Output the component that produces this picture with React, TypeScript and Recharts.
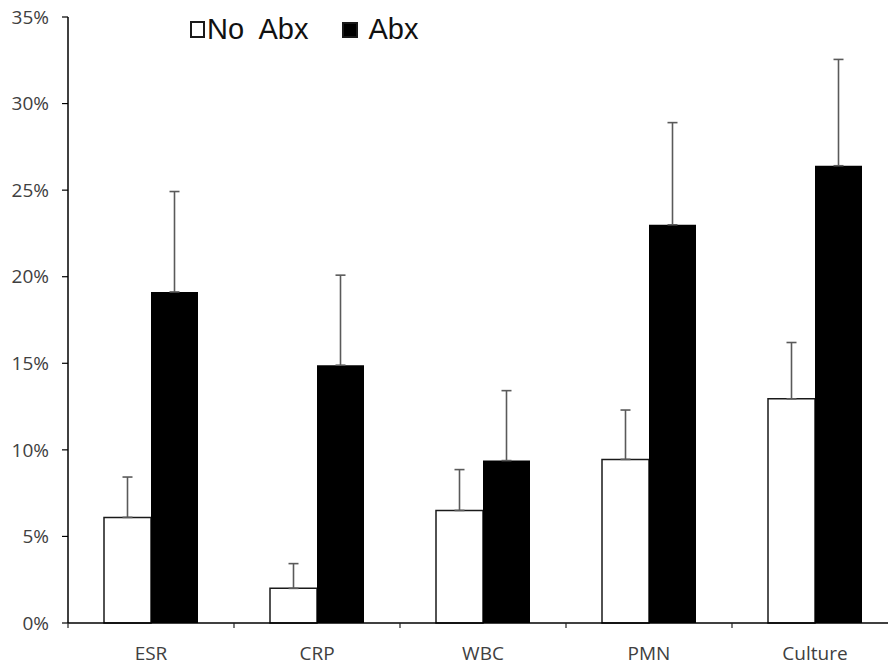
import { BarChart, Bar, XAxis, YAxis, ErrorBar, Legend } from "recharts";

// Positive-test rates (%) by marker, split by prior antibiotics
const categories = ["ESR", "CRP", "WBC", "PMN", "Culture"];
const noAbx = [6.1, 2.0, 6.5, 9.45, 12.95];
const noAbxErr = [2.33, 1.43, 2.36, 2.85, 3.25];
const abx = [19.12, 14.89, 9.38, 23.0, 26.41];
const abxErr = [5.8, 5.2, 4.04, 5.9, 6.14];
const yTicks = [0, 5, 10, 15, 20, 25, 30, 35];
const seriesOrder = ["noAbx", "abx"];

const Y_AXIS_W = 68;
const PLOT_W = 830;
const BAND = PLOT_W / categories.length;

// error bars only go up: [lower, upper]
const data = categories.map((category, i) => ({
  category,
  noAbx: noAbx[i],
  noAbxErr: [0, noAbxErr[i]],
  abx: abx[i],
  abxErr: [0, abxErr[i]],
}));

const swatch: Record<string, { fill: string; w: number; h: number; gap: number; after: number }> = {
  noAbx: { fill: "#ffffff", w: 11, h: 13, gap: 2, after: 33 },
  abx: { fill: "#000000", w: 12, h: 12, gap: 11, after: 0 },
};

function CategoryTick({ x, y, payload }: any) {
  const edge = x - BAND / 2;
  return (
    <g>
      <line x1={edge} x2={edge} y1={y} y2={y + 5} stroke="#222" strokeWidth={1.2} />
      <text
        x={x}
        y={y + 24}
        dy="0.71em"
        textAnchor="middle"
        fill="#404040"
        fontSize={19}
        fontFamily="'Open Sans', sans-serif"
      >
        {payload.value}
      </text>
    </g>
  );
}

function LegendContent({ payload }: any) {
  const items = [...(payload || [])].sort(
    (a: any, b: any) => seriesOrder.indexOf(a.dataKey) - seriesOrder.indexOf(b.dataKey)
  );
  return (
    <div
      style={{
        display: "flex",
        alignItems: "center",
        fontFamily: "'Liberation Sans', Arial, sans-serif",
        fontSize: 29,
        lineHeight: 1,
        color: "#111",
        whiteSpace: "nowrap",
      }}
    >
      {items.map((entry: any) => {
        const s = swatch[entry.dataKey];
        return (
          <div
            key={entry.dataKey}
            style={{ display: "flex", alignItems: "center", marginRight: s.after }}
          >
            <span
              style={{
                display: "inline-block",
                width: s.w,
                height: s.h,
                border: "2px solid #1a1a1a",
                background: s.fill,
                marginRight: s.gap,
              }}
            />
            <span style={{ wordSpacing: 8 }}>{entry.value}</span>
          </div>
        );
      })}
    </div>
  );
}

export default function App() {
  return (
    <div
      style={{
        position: "absolute",
        left: 0,
        top: 0,
        width: 888,
        height: 665,
        overflow: "hidden",
        background: "#fff",
      }}
    >
      <BarChart
        width={Y_AXIS_W + PLOT_W}
        height={665}
        data={data}
        margin={{ top: 17, right: 0, bottom: 2, left: 0 }}
        barSize={47}
        barGap={0}
      >
        <XAxis
          dataKey="category"
          interval={0}
          height={40}
          tickSize={0}
          tickMargin={0}
          tickLine={false}
          axisLine={{ stroke: "#000", strokeWidth: 1.5 }}
          tick={(props: any) => <CategoryTick {...props} />}
        />
        <YAxis
          width={Y_AXIS_W}
          domain={[0, 35]}
          ticks={yTicks}
          interval={0}
          tickFormatter={(v: number) => `${v}%`}
          tickSize={6}
          tickMargin={13}
          axisLine={{ stroke: "#000", strokeWidth: 1.5 }}
          tickLine={{ stroke: "#000", strokeWidth: 1.2 }}
          tick={{ fill: "#404040", fontSize: 19, fontFamily: "'Open Sans', sans-serif" }}
        />
        <Legend
          layout="horizontal"
          verticalAlign="middle"
          align="center"
          wrapperStyle={{ top: 15, left: 190, width: "auto" }}
          content={(props: any) => <LegendContent {...props} />}
        />
        <Bar
          dataKey="noAbx"
          name="No Abx"
          fill="#ffffff"
          stroke="#1a1a1a"
          strokeWidth={1.5}
          isAnimationActive={false}
        >
          <ErrorBar dataKey="noAbxErr" direction="y" width={5} stroke="#5a5a5a" strokeWidth={1.6} />
        </Bar>
        <Bar dataKey="abx" name="Abx" fill="#000000" isAnimationActive={false}>
          <ErrorBar dataKey="abxErr" direction="y" width={5} stroke="#5a5a5a" strokeWidth={1.6} />
        </Bar>
      </BarChart>
    </div>
  );
}
